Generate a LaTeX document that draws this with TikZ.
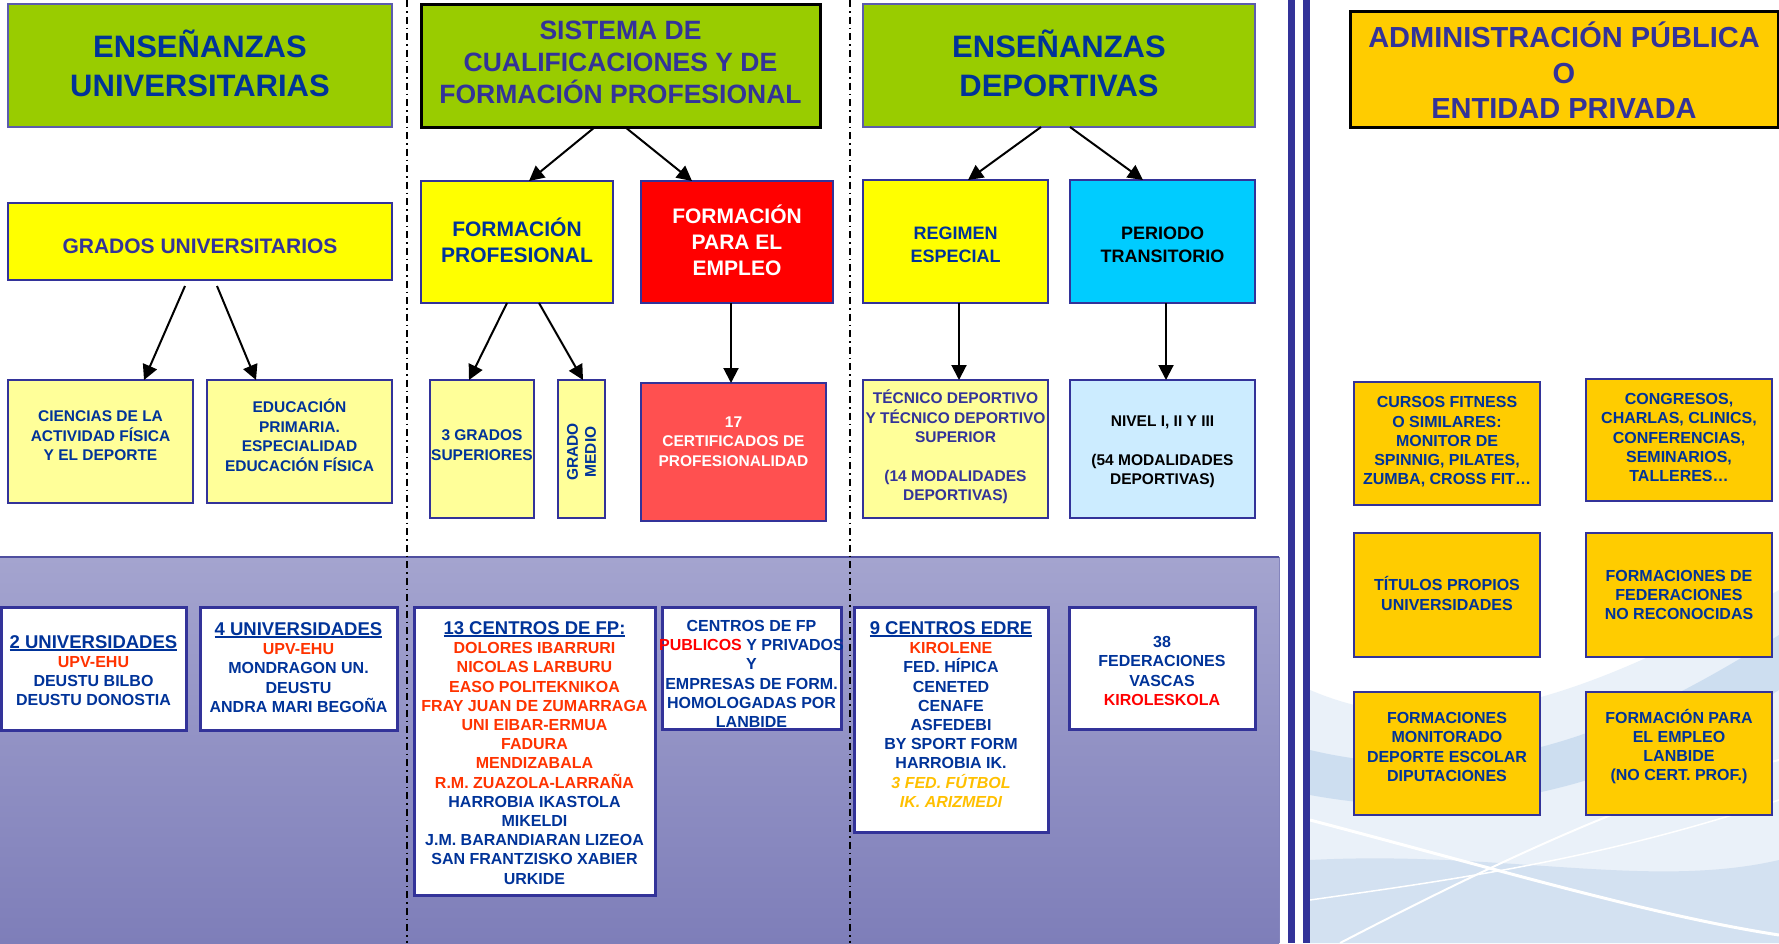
\documentclass[tikz,border=0pt]{standalone}
\usepackage{fontspec}
\setmainfont{Liberation Sans}
\usetikzlibrary{arrows.meta}
\definecolor{navy}{HTML}{003399}
\definecolor{navyp}{HTML}{333399}
\definecolor{bordc}{HTML}{333399}
\definecolor{lgreen}{HTML}{99CC00}
\definecolor{yel}{HTML}{FFFF00}
\definecolor{lyel}{HTML}{FFFF99}
\definecolor{rred}{HTML}{FF0000}
\definecolor{lred}{HTML}{FF5050}
\definecolor{cyanb}{HTML}{00CCFF}
\definecolor{lblue}{HTML}{CCECFF}
\definecolor{gold}{HTML}{FFCC00}
\definecolor{orng}{HTML}{FF3300}
\definecolor{ylwtxt}{HTML}{FFC000}
\definecolor{bandtop}{HTML}{A4A4CF}
\definecolor{bandbot}{HTML}{7E7EB9}
\definecolor{bandline}{HTML}{4F4F9F}
\definecolor{wavea}{HTML}{EAF1F9}
\definecolor{waveb}{HTML}{C4D8EE}
\definecolor{wavec}{HTML}{D3E1F1}
\newcommand{\myul}[1]{\setbox0\hbox{#1}\rlap{\rule[-2.6pt]{\wd0}{1.7pt}}\box0}
\newcommand{\bx}[9]{%
  \node[box,#6,minimum width={#4-#2},minimum height={#5-#3}] (#1) at ({(#2+#4)/2},{(#3+#5)/2}) {};
  \node[txt,#8] (#1t) at ({(#2+#4)/2},{(#3+#5)/2+#7}) {#9};}
\begin{document}
\begin{tikzpicture}[x=1pt,y=-1pt,
  box/.style={draw=bordc,line width=2.5pt,inner sep=0pt,outer sep=0pt},
  txt/.style={align=center,inner sep=0pt,outer sep=0pt,font=\bfseries\fontsize{16}{19.2}\selectfont,text=navy},
  fnt/.style 2 args={font=\bfseries\fontsize{#1}{#2}\selectfont},
  green/.style={fill=lgreen,draw=bordc!80,line width=2pt},
  greenk/.style={fill=lgreen,draw=black,line width=3pt},
  yelbox/.style={fill=yel},
  lyelbox/.style={fill=lyel},
  whitebox/.style={fill=white,line width=3pt},
  goldbox/.style={fill=gold},
  arr/.style={draw=black,line width=2pt,-{Triangle[length=15pt,width=15pt]}},
  sepline/.style={draw=black,line width=1.8pt,dash pattern=on 7pt off 4pt on 1.5pt off 4pt}]
\useasboundingbox (0,0) rectangle (1779,943);
\fill[fill=white] (0,0) rectangle (1779,943);
% background waves (right)
\fill[wavea] (1310,690) .. controls (1450,750) and (1600,690) .. (1779,590) -- (1779,943) -- (1310,943) -- cycle;
\fill[waveb,opacity=0.75] (1310,750) .. controls (1500,795) and (1650,715) .. (1779,635) -- (1779,690) .. controls (1650,770) and (1500,830) .. (1310,795) -- cycle;
\fill[wavec] (1310,860) .. controls (1500,850) and (1650,890) .. (1779,860) -- (1779,943) -- (1310,943) -- cycle;
\draw[draw=white,line width=3pt] (1310,820) .. controls (1500,870) and (1650,915) .. (1779,935);
\draw[draw=white,line width=2pt] (1340,943) .. controls (1500,860) and (1650,790) .. (1779,760);
\draw[draw=white,line width=1.5pt] (1310,900) .. controls (1450,880) and (1600,860) .. (1779,800);
% purple band
\shade[top color=bandtop,bottom color=bandbot] (0,557) rectangle (1279,943);
\draw[bandline,line width=2.5pt] (0,557) -- (1279,557);
\draw[bandline!70,line width=1pt] (1279,557) -- (1279,943);
% double vertical lines
\fill[bordc] (1288,0) rectangle (1295,943);
\fill[bordc] (1303,0) rectangle (1310,943);
% dash-dot separators
\coordinate (s1a) at (407,0); \coordinate (s1b) at (407,943);
\coordinate (s2a) at (850,0); \coordinate (s2b) at (850,943);
\draw[sepline] (s1a) -- (s1b);
\draw[sepline] (s2a) -- (s2b);
% top row
\bx{eu}{8}{4}{392}{127}{green}{-2}{fnt={31}{38.5},text=navy}{ENSEÑANZAS\\UNIVERSITARIAS}
\bx{sis}{421}{4}{820}{127}{greenk}{-3}{fnt={26.5}{32},text=navyp}{SISTEMA DE\\CUALIFICACIONES Y DE\\FORMACIÓN PROFESIONAL}
\bx{ed}{863}{4}{1255}{127}{green}{-2}{fnt={31}{38.5},text=navy}{ENSEÑANZAS\\DEPORTIVAS}
\bx{adm}{1350}{11}{1778}{127}{fill=gold,draw=black,line width=3pt}{1.5}{fnt={29}{35.5},text=navyp}{ADMINISTRACIÓN PÚBLICA\\O\\ENTIDAD PRIVADA}
% second row
\bx{gr}{8}{203}{392}{280}{yelbox}{5}{fnt={21}{26},text=navyp}{GRADOS UNIVERSITARIOS}
\bx{fp}{421}{181}{613}{303}{yelbox}{-2}{fnt={21}{26},text=navy}{FORMACIÓN\\PROFESIONAL}
\bx{fpe}{641}{181}{833}{303}{fill=rred}{-2}{fnt={21}{26},text=white}{FORMACIÓN\\PARA EL\\EMPLEO}
\bx{reg}{863}{180}{1048}{303}{yelbox}{3.5}{fnt={18}{23},text=navy}{REGIMEN\\ESPECIAL}
\bx{per}{1070}{180}{1255}{303}{fill=cyanb}{3.5}{fnt={18}{23},text=black}{PERIODO\\TRANSITORIO}
% third row
\bx{cie}{8}{380}{193}{503}{lyelbox}{-5.5}{fnt={15.5}{19.5},text=navy}{CIENCIAS DE LA\\ACTIVIDAD FÍSICA\\Y EL DEPORTE}
\bx{edu}{207}{380}{392}{503}{lyelbox}{-6.5}{fnt={15.5}{19.5},text=navy}{EDUCACIÓN\\PRIMARIA.\\ESPECIALIDAD\\EDUCACIÓN FÍSICA}
\bx{gs}{430}{380}{534}{518}{lyelbox}{-4}{fnt={15.5}{19.5},text=navy}{3 GRADOS\\SUPERIORES}
\bx{gm}{558}{380}{605}{518}{lyelbox}{3}{fnt={15.5}{18},text=navy,rotate=90}{GRADO\\MEDIO}
\bx{cert}{641}{383}{826}{521}{fill=lred}{-10.5}{fnt={15.5}{19.5},text=white}{17\\CERTIFICADOS DE\\PROFESIONALIDAD}
\bx{tec}{863}{380}{1048}{518}{lyelbox}{-2}{fnt={15.5}{19.5},text=navyp}{TÉCNICO DEPORTIVO\\Y TÉCNICO DEPORTIVO\\SUPERIOR\\[19pt](14 MODALIDADES\\DEPORTIVAS)}
\bx{niv}{1070}{380}{1255}{518}{fill=lblue}{3}{fnt={15.5}{19.5},text=black}{NIVEL I, II Y III\\[19pt](54 MODALIDADES\\DEPORTIVAS)}
% bottom boxes
\bx{u2}{1}{607}{186}{730}{whitebox}{2}{}{{\fontsize{18.5}{20}\selectfont\myul{2 UNIVERSIDADES}}\\{\color{orng}UPV-EHU}\\DEUSTU BILBO\\DEUSTU DONOSTIA}
\bx{u4}{200}{607}{397}{730}{whitebox}{-1}{}{{\fontsize{18.5}{20}\selectfont\myul{4 UNIVERSIDADES}}\\{\color{orng}UPV-EHU}\\MONDRAGON UN.\\DEUSTU\\ANDRA MARI BEGOÑA}
\bx{c13}{414}{607}{655}{895}{whitebox}{2}{}{{\fontsize{18.5}{20}\selectfont\myul{13 CENTROS DE FP:}}\\{\color{orng}DOLORES IBARRURI}\\{\color{orng}NICOLAS LARBURU}\\{\color{orng}EASO POLITEKNIKOA}\\{\color{orng}FRAY JUAN DE ZUMARRAGA}\\{\color{orng}UNI EIBAR-ERMUA}\\{\color{orng}FADURA}\\{\color{orng}MENDIZABALA}\\{\color{orng}R.M. ZUAZOLA-LARRAÑA}\\HARROBIA IKASTOLA\\MIKELDI\\J.M. BARANDIARAN LIZEOA\\SAN FRANTZISKO XABIER\\URKIDE}
\bx{cfp}{662}{607}{841}{729}{whitebox}{6}{}{CENTROS DE FP\\{\color{rred}PUBLICOS} Y PRIVADOS\\Y\\EMPRESAS DE FORM.\\HOMOLOGADAS POR\\LANBIDE}
\draw[bordc,line width=3pt] (cfp.south west) -- (cfp.south east);
\bx{c9}{854}{607}{1048}{832}{whitebox}{-5}{}{{\fontsize{18.5}{20}\selectfont\myul{9 CENTROS EDRE}}\\{\color{orng}KIROLENE}\\FED. HÍPICA\\CENETED\\CENAFE\\ASFEDEBI\\BY SPORT FORM\\HARROBIA IK.\\{\itshape\color{ylwtxt}3 FED. FÚTBOL}\\{\itshape\color{ylwtxt}IK. ARIZMEDI}}
\bx{f38}{1069}{607}{1255}{729}{whitebox}{3}{}{38\\FEDERACIONES\\VASCAS\\{\color{rred}KIROLESKOLA}}
% right side boxes
\bx{cur}{1354}{382}{1540}{505}{goldbox}{-1.5}{}{CURSOS FITNESS\\O SIMILARES:\\MONITOR DE\\SPINNIG, PILATES,\\ZUMBA, CROSS FIT…}
\bx{con}{1586}{379}{1772}{501}{goldbox}{-2.5}{}{CONGRESOS,\\CHARLAS, CLINICS,\\CONFERENCIAS,\\SEMINARIOS,\\TALLERES…}
\bx{tit}{1354}{533}{1540}{657}{goldbox}{-1.5}{}{TÍTULOS PROPIOS\\UNIVERSIDADES}
\bx{fnr}{1586}{533}{1772}{657}{goldbox}{0}{}{FORMACIONES DE\\FEDERACIONES\\NO RECONOCIDAS}
\bx{mon}{1354}{692}{1540}{815}{goldbox}{-6.5}{}{FORMACIONES\\MONITORADO\\DEPORTE ESCOLAR\\DIPUTACIONES}
\bx{lan}{1586}{692}{1772}{815}{goldbox}{-7}{}{FORMACIÓN PARA\\EL EMPLEO\\LANBIDE\\(NO CERT. PROF.)}
% arrows
\draw[arr] ([xshift=-25.5pt]sis.south) -- ([xshift=12pt]fp.north);
\draw[arr] ([xshift=4.5pt]sis.south) -- ([xshift=-45pt]fpe.north);
\draw[arr] ([xshift=-15pt,yshift=-6pt]gr.south) -- ([xshift=43.5pt]cie.north);
\draw[arr] ([xshift=17pt,yshift=-6pt]gr.south) -- ([xshift=-43.5pt]edu.north);
\draw[arr] ([xshift=-10pt]fp.south) -- ([xshift=-13pt]gs.north);
\draw[arr] ([xshift=22pt]fp.south) -- ([xshift=1.5pt]gm.north);
\draw[arr] ([xshift=-6pt]fpe.south) -- ([xshift=-2.5pt]cert.north);
\draw[arr] ([xshift=-18pt]ed.south) -- ([xshift=12.5pt]reg.north);
\draw[arr] ([xshift=11pt]ed.south) -- ([xshift=-19.5pt]per.north);
\draw[arr] ([xshift=3.5pt]reg.south) -- ([xshift=3.5pt]tec.north);
\draw[arr] ([xshift=3.5pt]per.south) -- ([xshift=3.5pt]niv.north);
\end{tikzpicture}
\end{document}
